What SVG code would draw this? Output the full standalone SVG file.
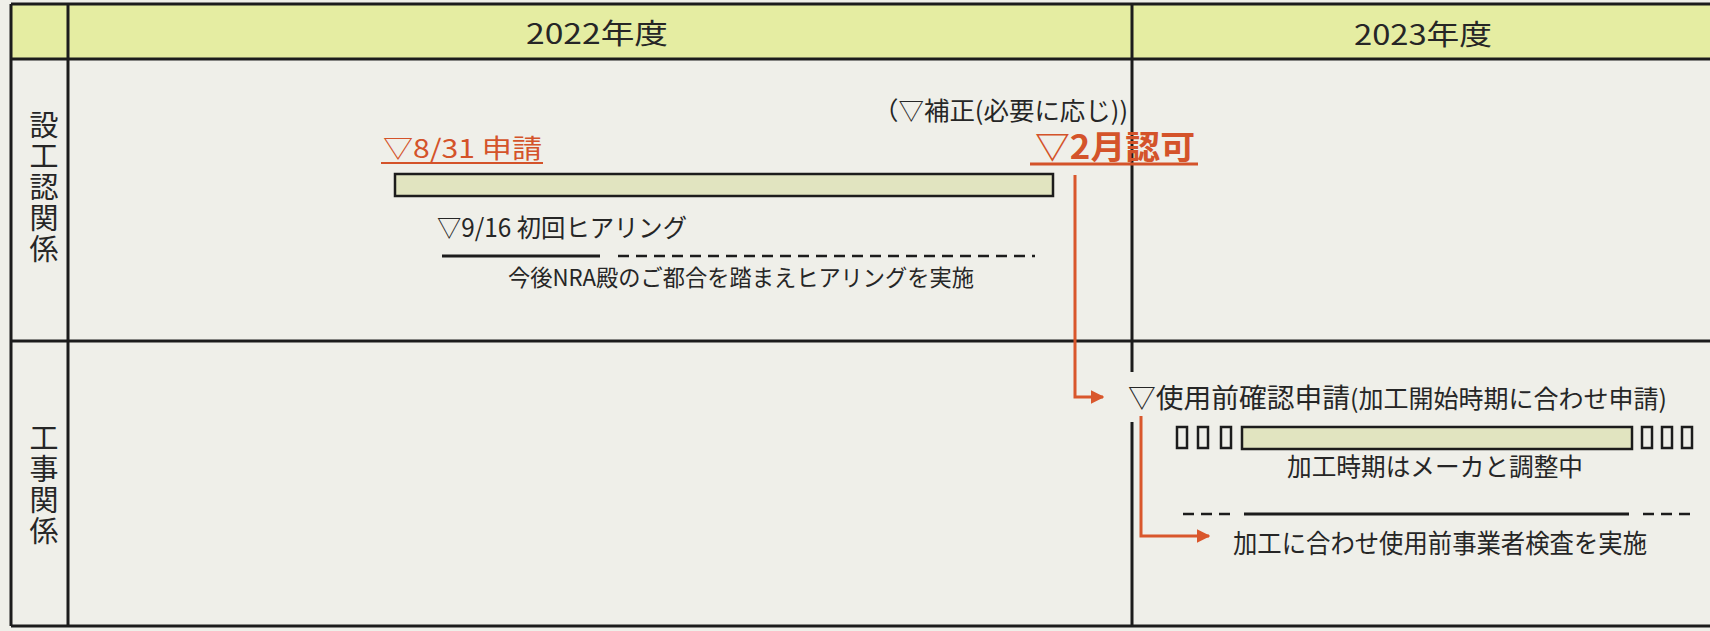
<svg xmlns="http://www.w3.org/2000/svg" width="1710" height="631" viewBox="0 0 1710 631">
<style>
.grid{stroke:#1c1c1c;stroke-width:3;fill:none}
.t{font-family:"Noto Sans CJK JP","Noto Sans",sans-serif;fill:#262626}
.v{writing-mode:vertical-rl;letter-spacing:2px}
.o{fill:#d4532a}
.bar{fill:#e1e4c0;stroke:#1c1c1c;stroke-width:2.5}
.sq{fill:none;stroke:#1c1c1c;stroke-width:2.5}
.ln{stroke:#1c1c1c;stroke-width:3;fill:none}
.dash{stroke:#1c1c1c;stroke-width:2.5;fill:none;stroke-dasharray:11 7}
.conn{stroke:#d9572c;stroke-width:3;fill:none}
</style>
<defs>
<marker id="ah" viewBox="0 0 10 10" refX="9" refY="5" markerWidth="4.5" markerHeight="4.5" orient="auto" markerUnits="strokeWidth">
<path d="M0,0 L10,5 L0,10 Z" fill="#d9572c"/>
</marker>
</defs>
<rect x="0" y="0" width="1710" height="631" fill="#efefe9"/>
<rect x="11" y="4" width="1699" height="55" fill="#e5eda2"/>
<g id="grid">
<path class="grid" d="M11,4 H1710 M11,59 H1710 M11,341 H1710 M11,626 H1710 M11,4 V626 M68,4 V626 M1132,4 V372 M1132,422 V626"/>
</g>
<g id="header-2022"><text class="t" x="597" y="44" font-size="28" text-anchor="middle" textLength="142" lengthAdjust="spacingAndGlyphs">2022年度</text></g>
<g id="header-2023"><text class="t" x="1423" y="45" font-size="28" text-anchor="middle" textLength="138" lengthAdjust="spacingAndGlyphs">2023年度</text></g>
<g id="label-row1">
<text class="t v" x="44" y="110" font-size="29">設工認関係</text>
</g>
<g id="label-row2">
<text class="t v" x="44" y="423" font-size="29">工事関係</text>
</g>
<g id="hosei"><text class="t" x="873" y="120" font-size="25" textLength="255" lengthAdjust="spacingAndGlyphs">（▽補正(必要に応じ))</text></g>
<g id="shinsei">
<text class="t o" x="383" y="158" font-size="26" textLength="159" lengthAdjust="spacingAndGlyphs">▽8/31 申請</text>
<line x1="381" y1="163" x2="543" y2="163" stroke="#d4532a" stroke-width="2"/>
</g>
<g id="ninka">
<text class="t o" x="1035" y="159" font-size="33" font-weight="bold" textLength="160" lengthAdjust="spacingAndGlyphs">▽2月認可</text>
<line x1="1030" y1="164" x2="1198" y2="164" stroke="#d4532a" stroke-width="3"/>
</g>
<g id="bar1"><rect class="bar" x="395" y="174" width="658" height="22"/></g>
<g id="hearing"><text class="t" x="437" y="237" font-size="25" textLength="250" lengthAdjust="spacingAndGlyphs">▽9/16 初回ヒアリング</text></g>
<g id="hearing-line">
<line class="ln" x1="442" y1="256" x2="600" y2="256"/>
<line class="dash" x1="618" y1="256" x2="1035" y2="256"/>
<text class="t" x="508" y="286" font-size="23" textLength="466" lengthAdjust="spacingAndGlyphs">今後NRA殿のご都合を踏まえヒアリングを実施</text>
</g>
<g id="shiyomae">
<text class="t" x="1128" y="408" font-size="27"><tspan textLength="222" lengthAdjust="spacingAndGlyphs">▽使用前確認申請</tspan><tspan font-size="25" textLength="317" lengthAdjust="spacingAndGlyphs">(加工開始時期に合わせ申請)</tspan></text>
</g>
<g id="bar2">
<rect class="sq" x="1177" y="427" width="10" height="21"/>
<rect class="sq" x="1198" y="427" width="10" height="21"/>
<rect class="sq" x="1221" y="427" width="10" height="21"/>
<rect class="bar" x="1242" y="427" width="390" height="22"/>
<rect class="sq" x="1642" y="427" width="10" height="21"/>
<rect class="sq" x="1662" y="427" width="10" height="21"/>
<rect class="sq" x="1682" y="427" width="10" height="21"/>
<text class="t" x="1287" y="476" font-size="25" textLength="296" lengthAdjust="spacingAndGlyphs">加工時期はメーカと調整中</text>
</g>
<g id="kensa">
<line class="dash" x1="1183" y1="514" x2="1230" y2="514" stroke-dasharray="10 7"/>
<line class="ln" x1="1244" y1="514" x2="1629" y2="514"/>
<line class="dash" x1="1643" y1="514" x2="1690" y2="514" stroke-dasharray="10 7"/>
<text class="t" x="1233" y="553" font-size="26" textLength="414" lengthAdjust="spacingAndGlyphs">加工に合わせ使用前事業者検査を実施</text>
</g>
<g id="connectors">
<path class="conn" d="M1075,175 V397 H1103" marker-end="url(#ah)"/>
<path class="conn" d="M1141,416 V536 H1209" marker-end="url(#ah)"/>
</g>
</svg>
